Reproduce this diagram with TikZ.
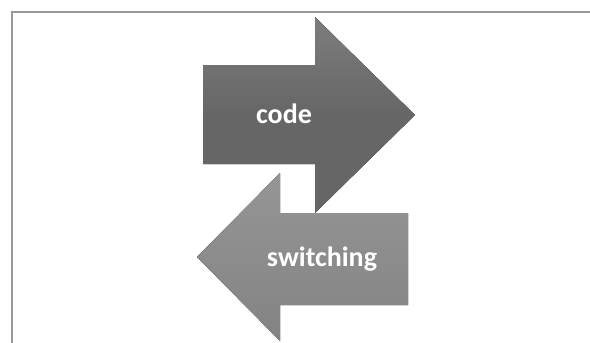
\documentclass[tikz,border=0pt]{standalone}
\usepackage{fontspec}
\setmainfont{Carlito}
\usepackage{tikz}
\usetikzlibrary{positioning}

\begin{document}
\begin{tikzpicture}[x=1pt,y=-1pt]
    \colorlet{darkarrow}{black!60}
    \colorlet{lightarrow}{black!46}
    \tikzset{label text/.style={text=white, font=\fontsize{28}{33}\bfseries\selectfont}}

    \useasboundingbox (0,0) rectangle (590,343);

    % frame (only top and left edge are visible)
    \draw[black!40, line width=1.5pt] (12,343) -- (12,12) -- (590,12);

    \begin{scope}
    % Right arrow
    \fill[top color=darkarrow!85, bottom color=darkarrow!100!black, middle color=darkarrow]
         (203,65) -- (315,65) -- (315,17) -- (415,115) --
         (315,213) -- (315,164) -- (203,164) -- cycle;

    % Left arrow
    \fill[top color=lightarrow!90, bottom color=lightarrow!95!black]
         (408,213) -- (280,213) -- (280,173) -- (197,257) --
         (280,341) -- (280,305) -- (408,305) -- cycle;
    \end{scope}

    \node[label text] (code) at (284,114) {code};
    \node[label text] (switching) at (322,259) {switching};
\end{tikzpicture}
\end{document}
